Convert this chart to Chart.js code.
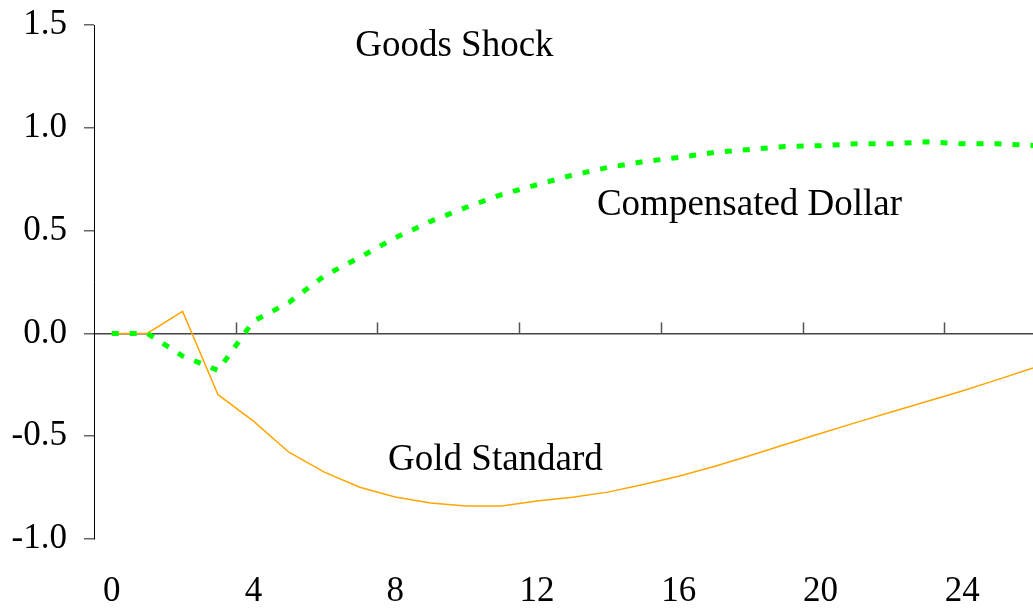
<!DOCTYPE html>
<html>
<head>
<meta charset="utf-8">
<script src="https://cdn.jsdelivr.net/npm/chart.js@4/dist/chart.umd.min.js"></script>
<style>
  body { margin: 0; background: #fff; }
  #wrap { width: 1033px; height: 611px; }
</style>
</head>
<body>
<div id="wrap"><canvas id="shock-chart" width="1033" height="611"></canvas></div>
<script>
// periods after the shock
const periods = [0, 1, 2, 3, 4, 5, 6, 7, 8, 9, 10, 11, 12, 13, 14, 15, 16, 17, 18, 19, 20, 21, 22, 23, 24, 25, 26];

// Compensated Dollar response
const compensatedDollar = [0, 0, -0.11, -0.18, 0.06, 0.15, 0.28, 0.37, 0.465, 0.545, 0.613, 0.675, 0.723, 0.77, 0.807, 0.835,
  0.856, 0.88, 0.895, 0.909, 0.913, 0.922, 0.922, 0.932, 0.922, 0.922, 0.914];

// Gold Standard response
const goldStandard = [0, 0, 0.107, -0.298, -0.427, -0.578, -0.675, -0.748, -0.796, -0.825, -0.84, -0.84, -0.815, -0.797,
  -0.772, -0.735, -0.695, -0.647, -0.595, -0.54, -0.487, -0.434, -0.382, -0.331, -0.28, -0.225, -0.168];

const xTickLabels = [0, 4, 8, 12, 16, 20, 24];
const yTickLabels = [-1.0, -0.5, 0.0, 0.5, 1.0, 1.5];
// little marks on the zero line
const zeroLineMarks = [3.5, 7.5, 11.5, 15.5, 19.5, 23.5];

// text labels inside the plot, in data units
const notes = [
  { text: "Goods Shock", x: 9.67, y: 1.398 },
  { text: "Compensated Dollar", x: 18.0, y: 0.621 },
  { text: "Gold Standard", x: 10.83, y: -0.617 },
];

const serif = '"Liberation Serif", "Times New Roman", serif';

const toPoints = (vals) => periods.map((p, i) => ({ x: p, y: vals[i] }));

// zero line marks + text labels
const extras = {
  id: "extras",
  afterDatasetsDraw(chart) {
    const { ctx, scales } = chart;
    const x = scales.x;
    const y = scales.y;
    const y0 = y.getPixelForValue(0);
    ctx.save();
    ctx.strokeStyle = "#555";
    ctx.lineWidth = 1.5;
    zeroLineMarks.forEach((m) => {
      const px = Math.round(x.getPixelForValue(m)) + 0.5;
      ctx.beginPath();
      ctx.moveTo(px, y0);
      ctx.lineTo(px, y0 - 11);
      ctx.stroke();
    });
    ctx.fillStyle = "#000";
    ctx.font = "37px " + serif;
    ctx.textAlign = "center";
    ctx.textBaseline = "middle";
    notes.forEach((n) => {
      ctx.fillText(n.text, x.getPixelForValue(n.x), y.getPixelForValue(n.y));
    });
    ctx.restore();
  },
};

new Chart(document.getElementById("shock-chart").getContext("2d"), {
  type: "line",
  data: {
    datasets: [
      {
        label: "Compensated Dollar",
        data: toPoints(compensatedDollar),
        borderColor: "#00FF00",
        borderWidth: 5,
        borderDash: [7, 11],
        pointRadius: 0,
        tension: 0,
      },
      {
        label: "Gold Standard",
        data: toPoints(goldStandard),
        borderColor: "#FFA500",
        borderWidth: 1.5,
        pointRadius: 0,
        tension: 0,
      },
    ],
  },
  options: {
    responsive: false,
    animation: false,
    layout: { padding: { top: 25, right: 0, left: 0, bottom: 0 } },
    plugins: {
      legend: { display: false },
      tooltip: { enabled: false },
    },
    scales: {
      x: {
        type: "linear",
        min: -0.5,
        max: 26,
        grid: { display: false, drawTicks: false },
        border: { display: false },
        afterBuildTicks: (scale) => {
          scale.ticks = xTickLabels.map((v) => ({ value: v }));
        },
        afterFit: (scale) => {
          scale.height = 72;
          scale.paddingLeft = 0;
          scale.paddingRight = 0;
        },
        ticks: {
          padding: 32,
          color: "#000",
          font: { family: serif, size: 35 },
          maxRotation: 0,
        },
      },
      y: {
        min: -1,
        max: 1.5,
        afterBuildTicks: (scale) => {
          scale.ticks = yTickLabels.map((v) => ({ value: v }));
        },
        afterFit: (scale) => {
          scale.width = 94;
          scale.paddingTop = 0;
          scale.paddingBottom = 0;
        },
        border: { display: true, color: "#000", width: 1 },
        grid: {
          drawOnChartArea: true,
          color: (c) => (c.tick && c.tick.value === 0 ? "#444" : "rgba(0,0,0,0)"),
          lineWidth: 1.5,
          tickColor: "#666",
          tickLength: 10,
        },
        ticks: {
          padding: 17,
          color: "#000",
          font: { family: serif, size: 35 },
          callback: (v) => v.toFixed(1),
        },
      },
    },
  },
  plugins: [extras],
});
</script>
</body>
</html>
